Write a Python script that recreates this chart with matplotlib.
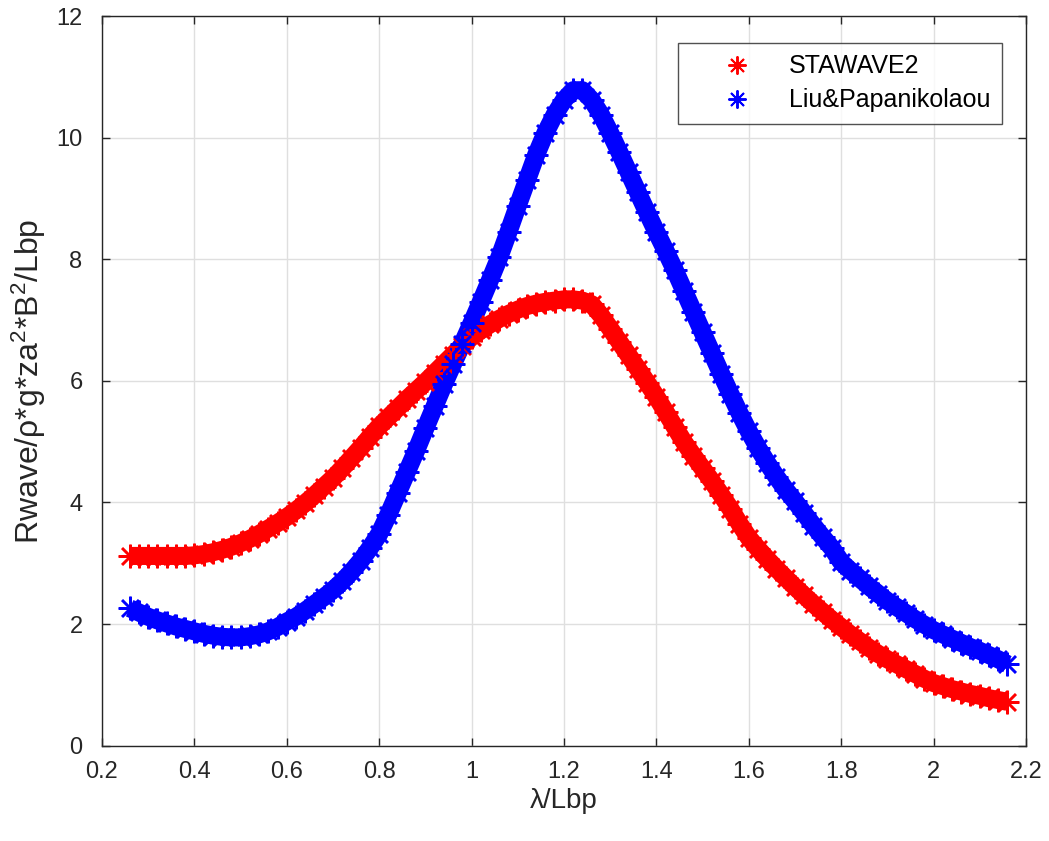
import matplotlib
matplotlib.use("Agg")
import matplotlib.pyplot as plt
from matplotlib.lines import Line2D

plt.rcParams['font.family'] = ['Liberation Sans', 'DejaVu Sans']
plt.rcParams['mathtext.fontset'] = 'custom'
plt.rcParams['mathtext.rm'] = 'Liberation Sans'
plt.rcParams['mathtext.it'] = 'Liberation Sans'

# wavelength / ship length
lam_ratio = [0.26, 0.28, 0.30, 0.32, 0.34, 0.36, 0.38, 0.40, 0.42, 0.44,
             0.46, 0.48, 0.50, 0.52, 0.54, 0.56, 0.58, 0.60, 0.62, 0.64,
             0.66, 0.68, 0.70, 0.72, 0.74, 0.76, 0.78, 0.80, 0.82, 0.84,
             0.86, 0.88, 0.90, 0.92, 0.94, 0.96, 0.98, 1.00, 1.02, 1.04,
             1.06, 1.08, 1.10, 1.12, 1.14, 1.16, 1.18, 1.20, 1.22, 1.24,
             1.26, 1.28, 1.30, 1.32, 1.34, 1.36, 1.38, 1.40, 1.42, 1.44,
             1.46, 1.48, 1.50, 1.52, 1.54, 1.56, 1.58, 1.60, 1.62, 1.64,
             1.66, 1.68, 1.70, 1.72, 1.74, 1.76, 1.78, 1.80, 1.82, 1.84,
             1.86, 1.88, 1.90, 1.92, 1.94, 1.96, 1.98, 2.00, 2.02, 2.04,
             2.06, 2.08, 2.10, 2.12, 2.14, 2.16]

# non-dimensional added resistance, STAWAVE2
r_stawave2 = [3.12, 3.12, 3.12, 3.12, 3.12, 3.12, 3.12, 3.13, 3.15, 3.18,
              3.22, 3.27, 3.33, 3.40, 3.48, 3.57, 3.66, 3.76, 3.87, 3.99,
              4.12, 4.26, 4.40, 4.56, 4.73, 4.90, 5.08, 5.25, 5.40, 5.55,
              5.70, 5.84, 5.98, 6.13, 6.28, 6.43, 6.58, 6.72, 6.83, 6.93,
              7.02, 7.10, 7.17, 7.23, 7.27, 7.30, 7.32, 7.34, 7.34, 7.32,
              7.26, 7.08, 6.86, 6.64, 6.42, 6.20, 5.97, 5.74, 5.49, 5.24,
              4.99, 4.77, 4.56, 4.35, 4.13, 3.90, 3.65, 3.42, 3.24, 3.07,
              2.91, 2.76, 2.61, 2.47, 2.33, 2.20, 2.07, 1.95, 1.83, 1.72,
              1.61, 1.51, 1.42, 1.34, 1.26, 1.18, 1.10, 1.03, 0.98, 0.93,
              0.89, 0.85, 0.82, 0.78, 0.75, 0.72]

# non-dimensional added resistance, Liu & Papanikolaou
r_liu = [2.26, 2.19, 2.12, 2.06, 2.01, 1.96, 1.92, 1.88, 1.84, 1.81,
         1.79, 1.78, 1.78, 1.80, 1.83, 1.88, 1.95, 2.04, 2.12, 2.22,
         2.33, 2.44, 2.56, 2.70, 2.86, 3.04, 3.25, 3.48, 3.80, 4.15,
         4.50, 4.85, 5.22, 5.58, 5.94, 6.28, 6.61, 6.95, 7.30, 7.66,
         8.03, 8.45, 8.88, 9.30, 9.72, 10.08, 10.38, 10.62, 10.78, 10.78,
         10.62, 10.38, 10.08, 9.76, 9.43, 9.10, 8.77, 8.45, 8.14, 7.82,
         7.48, 7.14, 6.80, 6.46, 6.12, 5.79, 5.47, 5.17, 4.90, 4.65,
         4.42, 4.21, 4.02, 3.82, 3.62, 3.43, 3.25, 3.02, 2.88, 2.75,
         2.62, 2.50, 2.38, 2.28, 2.18, 2.08, 1.99, 1.90, 1.83, 1.76,
         1.69, 1.62, 1.56, 1.49, 1.42, 1.34]

series_names = ['STAWAVE2', 'Liu&Papanikolaou']
series_colors = ['#ff0000', '#0000ff']

x_ticks = [0.2, 0.4, 0.6, 0.8, 1.0, 1.2, 1.4, 1.6, 1.8, 2.0, 2.2]
x_ticklabels = ['0.2', '0.4', '0.6', '0.8', '1', '1.2', '1.4', '1.6', '1.8', '2', '2.2']
y_ticks = [0, 2, 4, 6, 8, 10, 12]

fig = plt.figure(figsize=(10.49, 8.41), dpi=100)
ax = fig.add_axes([0.0972, 0.1134, 0.8808, 0.8675])

star = (8, 2, 0)
axis_color = '#262626'

handles = []
for y, name, col in zip([r_stawave2, r_liu], series_names, series_colors):
    ax.plot(lam_ratio, y, '-', color=col, linewidth=13, solid_capstyle='butt', zorder=3)
    ax.plot(lam_ratio, y, linestyle='none', marker=star, markersize=17,
            markeredgewidth=1.8, color=col, zorder=4)
    handles.append(Line2D([], [], linestyle='none', marker=star, markersize=13,
                          markeredgewidth=1.4, color=col, label=name))

ax.set_xlim(0.2, 2.2)
ax.set_ylim(0, 12)
ax.set_xticks(x_ticks)
ax.set_xticklabels(x_ticklabels)
ax.set_yticks(y_ticks)

ax.grid(True, color='#dfdfdf', linewidth=1.0, zorder=0)
ax.set_axisbelow(True)
for sp in ax.spines.values():
    sp.set_color(axis_color)
    sp.set_linewidth(1.0)
ax.tick_params(direction='in', length=6, width=1.0, color=axis_color,
               labelcolor=axis_color, labelsize=17, top=True, right=True)
ax.tick_params(axis='x', pad=11)
ax.tick_params(axis='y', pad=14)

ax.set_xlabel('λ/Lbp', fontsize=20, color=axis_color, labelpad=4)
ax.set_ylabel('Rwave/ρ*g*za$^2$*B$^2$/Lbp', fontsize=23, color=axis_color, labelpad=6)

leg = ax.legend(handles=handles, loc='upper right', bbox_to_anchor=(0.974, 0.963),
                borderaxespad=0.0, fontsize=18, frameon=True, fancybox=False,
                borderpad=0.45, handletextpad=0.2, handlelength=3.8, labelspacing=0.4)
leg.get_frame().set_edgecolor(axis_color)
leg.get_frame().set_linewidth(1.0)

fig.savefig('out.png', dpi=100, facecolor='white')
